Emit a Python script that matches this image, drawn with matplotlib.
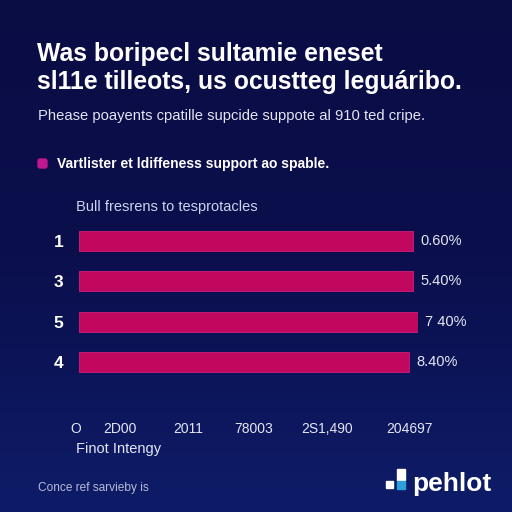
import matplotlib
matplotlib.use('Agg')
import matplotlib.pyplot as plt
import numpy as np
from matplotlib.patches import Rectangle, FancyBboxPatch

# dados do gráfico
categorias = ['1', '3', '5', '4']
valores = [98.5, 98.5, 100.0, 97.4]
rotulos = ['0.60%', '5.40%', '7 40%', '8.40%']
xticks_pos = [-1, 12, 32, 51.5, 73, 97.4]
xticks_lab = ['O', '2D00', '2011', '78003', '2S1,490', '204697']

titulo = 'Was boripecl sultamie eneset\nsl11e tilleots, us ocustteg leguáribo.'
subtitulo = 'Phease poayents cpatille supcide suppote al 910 ted cripe.'
legenda = 'Vartlister et ldiffeness support ao spable.'
cabecalho = 'Bull fresrens to tesprotacles'
eixo_x = 'Finot Intengy'
rodape = 'Conce ref sarvieby is'

plt.rcParams['font.family'] = ['Liberation Sans', 'DejaVu Sans']
ROSA = '#c2075f'
TEXTO = '#e4e6f5'
W = 512.0

fig = plt.figure(figsize=(5.12, 5.12), dpi=100)

# fundo com gradiente azul escuro
bg = fig.add_axes([0, 0, 1, 1])
grad = np.linspace(0, 1, 256).reshape(-1, 1)
cmap = matplotlib.colors.LinearSegmentedColormap.from_list('bg', ['#0a0c44', '#0b0f4c', '#0e1c68'])
bg.imshow(grad, aspect='auto', cmap=cmap, extent=[0, 1, 0, 1], origin='upper')
bg.set_xlim(0, 1)
bg.set_ylim(0, 1)
bg.axis('off')

def fy(py):
    return 1 - py / W

def fx(px):
    return px / W

# títulos
fig.text(fx(37), fy(68), titulo, color='white', fontsize=17.8, fontweight='bold',
         va='center', ha='left', linespacing=1.22)
fig.text(fx(38), fy(116), subtitulo, color=TEXTO, fontsize=10.6, va='center', ha='left')

# legenda
fig.patches.append(FancyBboxPatch((fx(38), fy(168)), fx(9), 9 / W,
                                  boxstyle='round,pad=0,rounding_size=0.004',
                                  transform=fig.transFigure, color='#c0188f'))
fig.text(fx(57), fy(164), legenda, color='white', fontsize=10, fontweight='bold',
         va='center', ha='left')
fig.text(fx(76), fy(207), cabecalho, color='#cfd3ee', fontsize=10.5, va='center', ha='left')

# barras
ax = fig.add_axes([fx(76), fy(382), fx(342), 161 / W])
ax.set_facecolor('none')
y = np.arange(len(categorias))
ax.barh(y, valores, height=0.5, color=ROSA, edgecolor='#d0207a', linewidth=0.6)
for yi, v, r in zip(y, valores, rotulos):
    ax.text(v + 2.2, yi, r, color=TEXTO, fontsize=10.5, va='center', ha='left')
ax.set_xlim(0, 100)
ax.set_ylim(3.5, -0.5)
ax.set_yticks(y)
ax.set_yticklabels(categorias, color='white', fontsize=12.5, fontweight='bold')
ax.set_xticks(xticks_pos)
ax.set_xticklabels(xticks_lab, color=TEXTO, fontsize=10)
ax.tick_params(axis='y', length=0, pad=9)
ax.tick_params(axis='x', length=0, pad=29)
ax.set_xlabel(eixo_x, color=TEXTO, fontsize=10.5, loc='left', labelpad=4)
for s in ax.spines.values():
    s.set_visible(False)

# rodapé
fig.text(fx(38), fy(488), rodape, color='#b8bcd6', fontsize=8.6, va='center', ha='left')

# logo
for (x0, y0, w, h, c) in [(386, 488, 7, 7, 'white'), (397, 480, 8, 11, 'white'),
                          (397, 489, 8, 8, '#2d9fd9')]:
    fig.patches.append(Rectangle((fx(x0), fy(y0)), w / W, h / W,
                                 transform=fig.transFigure, color=c))
fig.text(fx(412), fy(484), 'pehlot', color='white', fontsize=19, fontweight='bold',
         va='center', ha='left')

fig.savefig('out.png', dpi=100)
